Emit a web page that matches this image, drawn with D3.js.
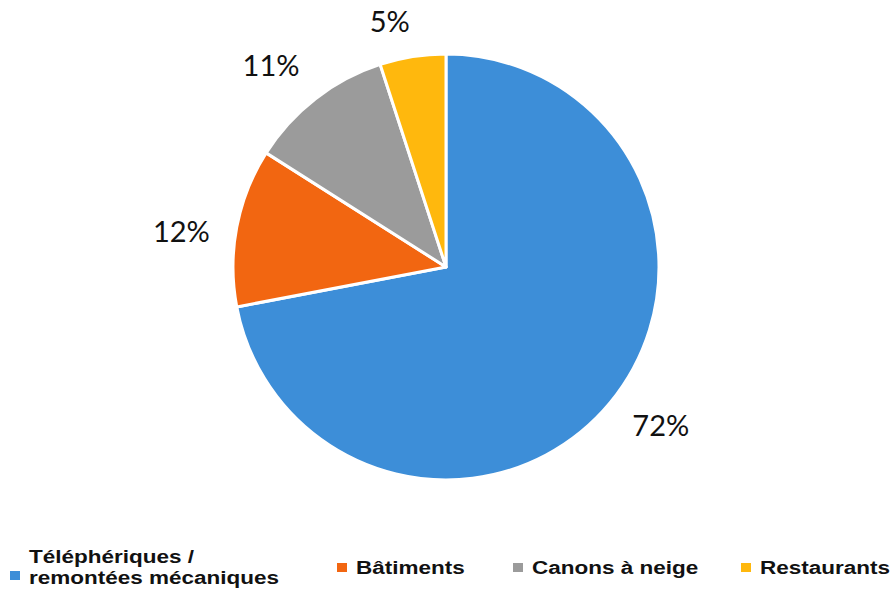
<!DOCTYPE html>
<html>
<head>
<meta charset="utf-8">
<script src="https://cdn.jsdelivr.net/npm/d3@7"></script>
<style>
  html, body { margin: 0; padding: 0; background: #fff; }
</style>
</head>
<body>
<svg id="pie_canvas" width="896" height="592"></svg>
<script>
// data
const categories = ["Téléphériques / remontées mécaniques", "Bâtiments", "Canons à neige", "Restaurants"];
const legendLines = [["Téléphériques /", "remontées mécaniques"], ["Bâtiments"], ["Canons à neige"], ["Restaurants"]];
const shares = [72, 12, 11, 5];
const colors = ["#3d8ed8", "#f26611", "#9b9b9b", "#ffb80d"];

function MakePie() {
    const svg = d3.select("#pie_canvas");
    svg.selectAll("*").remove();

    const cx = 446, cy = 267, radius = 213;
    const labelR = 267;
    const labelShift = -0.055; // labels sit a little counter-clockwise

    const g = svg.append("g").attr("transform", `translate(${cx},${cy})`);

    const pie = d3.pie().sort(null).value(d => d)(shares);
    const arc = d3.arc().innerRadius(0).outerRadius(radius);
    const labelArc = d3.arc().innerRadius(labelR).outerRadius(labelR);
    const labelPos = d => labelArc.centroid({startAngle: d.startAngle + labelShift, endAngle: d.endAngle + labelShift});

    // slices
    g.selectAll("path.slice")
        .data(pie)
        .enter().append("path")
        .attr("class", "slice")
        .attr("d", arc)
        .attr("fill", (d, i) => colors[i])
        .attr("stroke", "#fff")
        .attr("stroke-width", 3)
        .attr("stroke-linejoin", "round");

    // percent labels
    g.selectAll("text.pct")
        .data(pie)
        .enter().append("text")
        .attr("class", "pct")
        .attr("x", d => labelPos(d)[0])
        .attr("y", d => Math.max(-cy + 22, labelPos(d)[1]))
        .attr("dy", "0.36em")
        .attr("text-anchor", "middle")
        .attr("font-family", "Lato, 'Open Sans', sans-serif")
        .attr("font-size", 29)
        .attr("fill", "#111")
        .text(d => d.data + "%");

    // legend
    const legendX = [10, 337, 513, 741];
    const legend = svg.append("g").attr("class", "legend");
    legendLines.forEach((lines, i) => {
        const item = legend.append("g").attr("transform", `translate(${legendX[i]},0)`);
        const twoLines = lines.length > 1;
        item.append("rect")
            .attr("x", 0)
            .attr("y", twoLines ? 571 : 563)
            .attr("width", 10)
            .attr("height", 9)
            .attr("fill", colors[i]);
        const txt = item.append("text")
            .attr("transform", `translate(19,0) scale(1.25,1)`)
            .attr("font-family", "'Liberation Sans', Arial, sans-serif")
            .attr("font-weight", "bold")
            .attr("font-size", 18)
            .attr("fill", "#111");
        lines.forEach((l, j) => {
            txt.append("tspan")
                .attr("x", 0)
                .attr("y", twoLines ? 563 + j * 21 : 574)
                .text(l);
        });
    });
}

MakePie();
</script>
</body>
</html>
